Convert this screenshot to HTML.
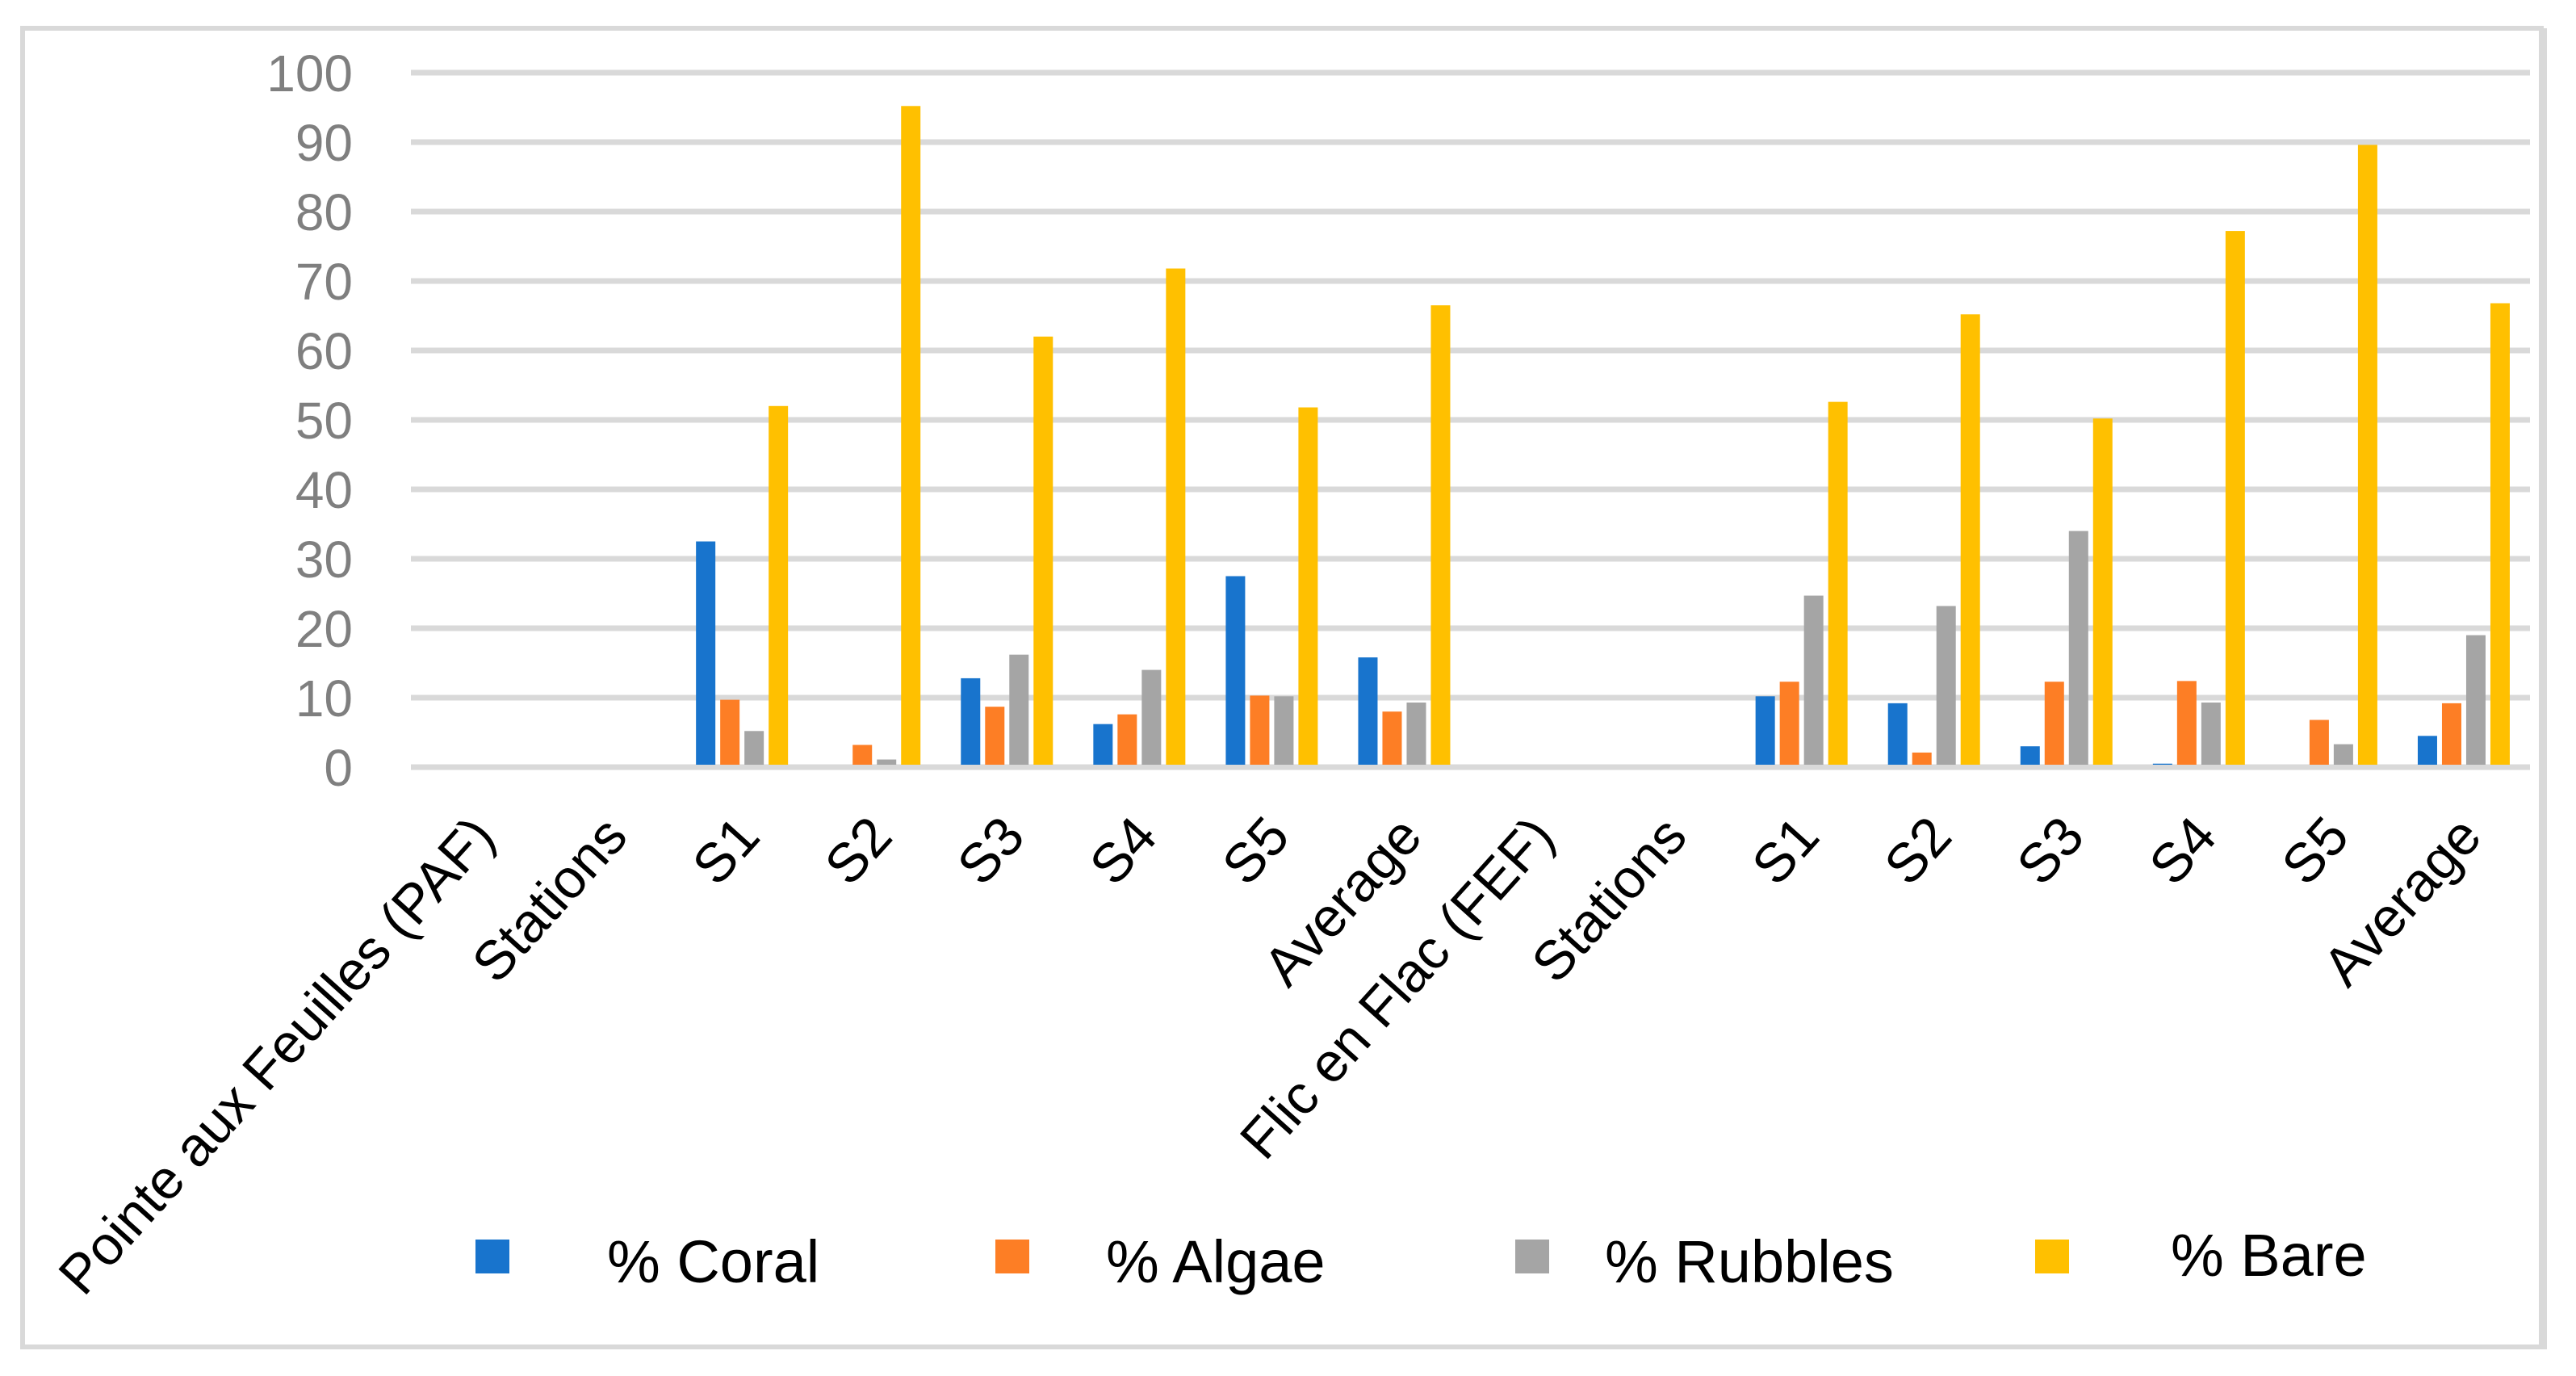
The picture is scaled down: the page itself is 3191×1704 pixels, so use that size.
<!DOCTYPE html>
<html><head><meta charset="utf-8"><style>
html,body{margin:0;padding:0;background:#fff}
svg{display:block}
text{font-family:"Liberation Sans",sans-serif}
</style></head><body>
<svg id="chart" width="3191" height="1704" viewBox="0 0 3191 1704" xmlns="http://www.w3.org/2000/svg">
<rect x="28" y="35" width="3120" height="1633" fill="#fff" stroke="#d9d9d9" stroke-width="6"/>
<rect x="3147" y="35" width="8" height="1636" fill="#d9d9d9"/>
<g id="grid"></g><g id="yticks"></g><g id="bars"></g><g id="xlabels"></g><g id="legend"></g>
</svg>
<script>
const categories = ["Pointe aux Feuilles (PAF)","Stations","S1","S2","S3","S4","S5","Average","Flic en Flac (FEF)","Stations","S1","S2","S3","S4","S5","Average"];
const coral   = [null,null,32.5,0,12.8,6.2,27.5,15.8,null,null,10.2,9.2,3,0.5,0,4.5];
const algae   = [null,null,9.7,3.2,8.7,7.6,10.3,8,null,null,12.3,2.1,12.3,12.4,6.8,9.2];
const rubbles = [null,null,5.2,1.1,16.2,14,10.2,9.3,null,null,24.7,23.2,34,9.3,3.3,19];
const bare    = [null,null,52,95.2,62,71.8,51.8,66.5,null,null,52.6,65.2,50.2,77.2,89.6,66.8];
const seriesNames = ["% Coral","% Algae","% Rubbles","% Bare"];
const yTicks = [0,10,20,30,40,50,60,70,80,90,100];

const NS="http://www.w3.org/2000/svg";
const colors=["#1874cd","#fd7e25","#a5a5a5","#ffc000"];
const X0=509,X1=3134,Y0=950,Y100=90;
const bw=(X1-X0)/categories.length;
function yScale(v){return Y0-(v/100)*(Y0-Y100);}
function xCenter(i){return X0+bw*(i+0.5);}
function mk(tag,attrs,parent){const e=document.createElementNS(NS,tag);for(const k in attrs)e.setAttribute(k,attrs[k]);parent.appendChild(e);return e;}
const grid=document.getElementById('grid'),yt=document.getElementById('yticks');
yTicks.forEach(t=>{
  const l=mk('line',{x1:X0,x2:X1,y1:yScale(t),y2:yScale(t),stroke:'#d9d9d9','stroke-width':7},grid);
  
  
  const tx=mk('text',{x:437,y:yScale(t)+23,'text-anchor':'end','font-size':64,fill:'#7f7f7f'},yt);
  tx.textContent=t;
  
  
});
const series=[coral,algae,rubbles,bare];
const barsG=document.getElementById('bars');
const barW=24,step=30;
series.forEach((s,si)=>{
  s.forEach((v,i)=>{
    if(v===null||v===0)return;
    const x=xCenter(i)-2*step+si*step+(step-barW)/2;
    const r=mk('rect',{x:x,y:yScale(v),width:barW,height:Y0-yScale(v)-3,fill:colors[si]},barsG);
    
    
  });
});
const xl=document.getElementById('xlabels');
categories.forEach((c,i)=>{
  const ax=xCenter(i)+25,ay=1038;
  const t=mk('text',{x:ax,y:ay,'text-anchor':'end','font-size':68,fill:'#000',transform:'rotate(-48 '+ax+' '+ay+')'},xl);
  t.textContent=c;
  
  
});
const lg=document.getElementById('legend');
const sqX=[589,1233,1877,2521],txX=[752,1370,1988,2689],txY=[1588,1588,1588,1580];
seriesNames.forEach((n,i)=>{
  const r=mk('rect',{x:sqX[i],y:1535,width:42,height:42,fill:colors[i]},lg);
  
  
  const t=mk('text',{x:txX[i],y:txY[i],'font-size':74,fill:'#000'},lg);
  t.textContent=n;
  
  
});
</script>
</body></html>
